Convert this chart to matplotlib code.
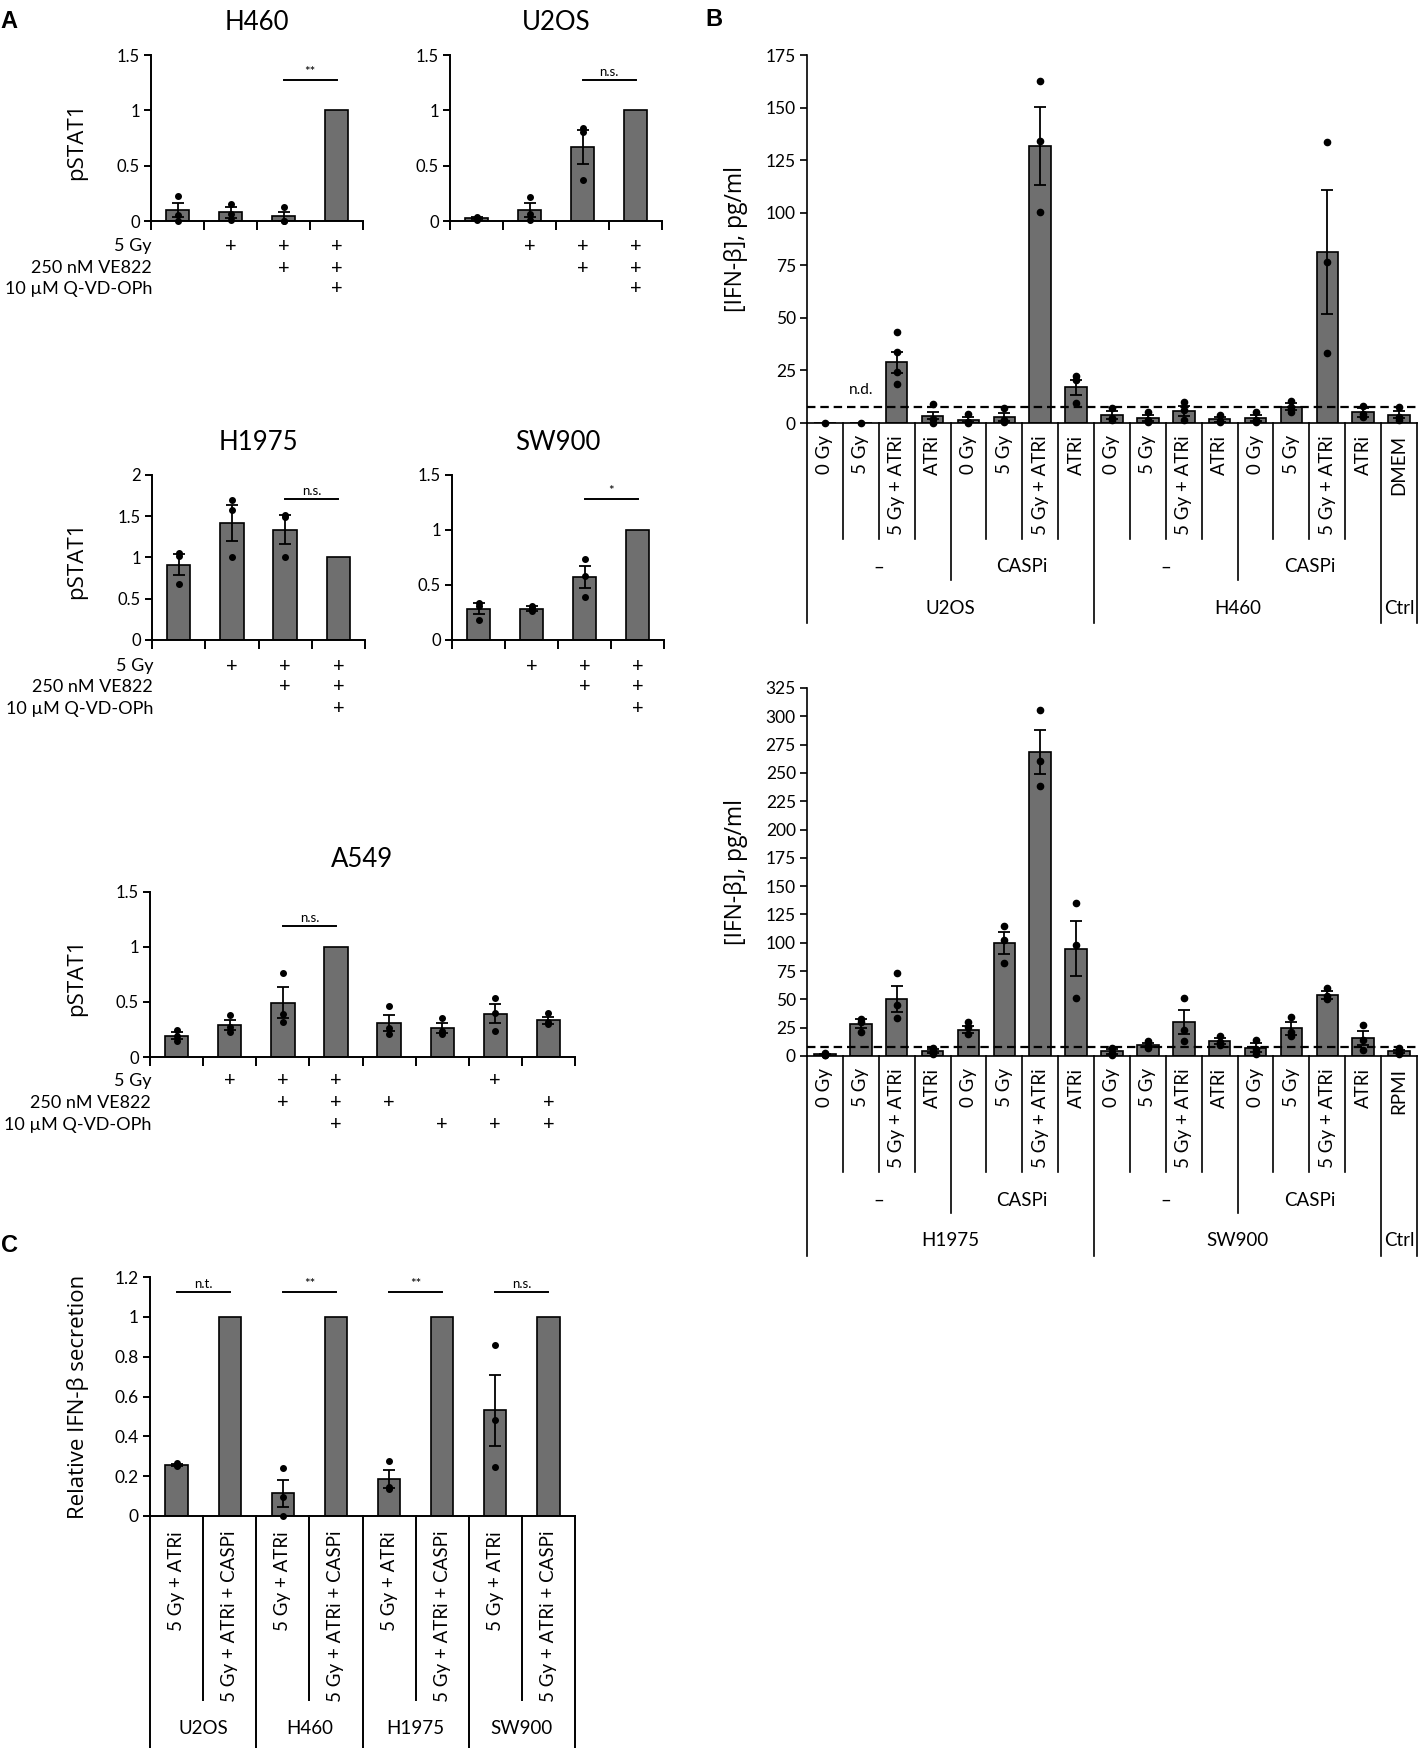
import numpy as np
import matplotlib
matplotlib.use("Agg")
import matplotlib.pyplot as plt

plt.rcParams['font.family'] = ['Lato', 'DejaVu Sans']

# ---------------- panel A data (pSTAT1) ----------------
h460_mean = [0.097, 0.078, 0.042, 1.0]
h460_sem = [0.063, 0.049, 0.040, 0]
h460_pts = [[0.223, 0.05, 0.0], [0.157, 0.066, 0.01], [0.127, 0.0, 0.0], []]

u2os_mean = [0.025, 0.097, 0.67, 1.0]
u2os_sem = [0.01, 0.062, 0.155, 0]
u2os_pts = [[0.04, 0.02, 0.01], [0.217, 0.066, 0.006], [0.84, 0.80, 0.368], []]

h1975_mean = [0.913, 1.414, 1.337, 1.0]
h1975_sem = [0.125, 0.22, 0.175, 0]
h1975_pts = [[1.06, 1.02, 0.68], [1.70, 1.57, 1.0], [1.515, 1.49, 1.0], []]

sw900_mean = [0.285, 0.285, 0.57, 1.0]
sw900_sem = [0.05, 0.02, 0.10, 0]
sw900_pts = [[0.335, 0.31, 0.18], [0.31, 0.29, 0.26], [0.736, 0.58, 0.39], []]

a549_mean = [0.194, 0.29, 0.494, 1.0, 0.31, 0.264, 0.394, 0.333]
a549_sem = [0.03, 0.043, 0.142, 0, 0.07, 0.042, 0.086, 0.034]
a549_pts = [[0.25, 0.19, 0.15], [0.38, 0.27, 0.23], [0.767, 0.394, 0.318], [],
            [0.46, 0.26, 0.21], [0.355, 0.24, 0.21], [0.533, 0.40, 0.233], [0.40, 0.32, 0.30]]

row_names = ["5 Gy", "250 nM VE822", "10 \u00b5M Q-VD-OPh"]
rows4 = [[0, 1, 1, 1], [0, 0, 1, 1], [0, 0, 0, 1]]
rows8 = [[0, 1, 1, 1, 0, 0, 1, 0], [0, 0, 1, 1, 1, 0, 0, 1], [0, 0, 0, 1, 0, 1, 1, 1]]

# ---------------- panel B data ([IFN-b], pg/ml) ----------------
b_labels = ["0 Gy", "5 Gy", "5 Gy + ATRi", "ATRi"] * 4
b1_mean = [0, 0, 28.8, 3.4, 1.6, 2.9, 131.8, 17.0, 3.7, 2.2, 5.7, 1.8, 2.4, 7.8, 81.3, 5.0, 4.0]
b1_sem = [0, 0, 4.8, 1.7, 1.1, 1.9, 18.4, 3.6, 1.8, 1.4, 2.5, 1.1, 1.6, 1.6, 29.4, 2.0, 1.5]
b1_pts = [[0], [0], [43.3, 33.7, 24.2, 18.6], [8.8, 2.0, 0], [4.2, 0.5, 0], [6.9, 1.3, 0.3],
          [162.6, 134, 100.3], [22.4, 20.5, 9.6], [7.3, 2.5, 1.2], [5.3, 1.2, 0.3],
          [9.9, 6.0, 1.2], [4.0, 1.0, 0.4], [5.3, 1.5, 0.4], [10.5, 7.5, 5.3],
          [133.7, 76.8, 33.2], [8.0, 4.3, 2.8], [7.5, 3.0, 1.6]]

b2_mean = [1.5, 28.4, 50.3, 4.5, 23.3, 99.7, 268.6, 94.6, 4.0, 9.8, 30.0, 13.2, 7.4, 24.3, 54.0, 15.9, 4.0]
b2_sem = [0.7, 4.0, 11.7, 1.5, 3.0, 9.5, 19.4, 24.3, 1.8, 2.0, 11.0, 2.5, 3.8, 5.5, 3.5, 6.0, 1.6]
b2_pts = [[2.5, 1.2, 0.5], [32.8, 30.0, 21.0], [73.3, 45.3, 33.4], [7.0, 4.0, 2.0],
          [30.0, 26.0, 19.0], [114.5, 102.7, 81.8], [305.7, 260.8, 238.5], [135.5, 97.6, 51.0],
          [7.5, 3.0, 1.2], [13.0, 9.0, 7.0], [51.4, 23.3, 13.2], [17.5, 12.0, 10.0],
          [14.0, 6.0, 2.0], [34.5, 21.0, 17.6], [59.8, 53.0, 50.3], [27.0, 14.2, 5.7], [7.5, 3.0, 1.5]]
b_treat = ["\u2013", "CASPi", "\u2013", "CASPi"]
b1_cells = ["U2OS", "H460", "Ctrl"]
b2_cells = ["H1975", "SW900", "Ctrl"]
b1_ctrl = "DMEM"
b2_ctrl = "RPMI"
detect_limit = 7.8

# ---------------- panel C data ----------------
c_labels = ["5 Gy + ATRi", "5 Gy + ATRi + CASPi"] * 4
c_cells = ["U2OS", "H460", "H1975", "SW900"]
c_mean = [0.257, 1.0, 0.113, 1.0, 0.187, 1.0, 0.53, 1.0]
c_sem = [0.005, 0, 0.07, 0, 0.045, 0, 0.178, 0]
c_pts = [[0.265, 0.255, 0.25], [], [0.242, 0.097, 0.0], [], [0.277, 0.147, 0.137], [],
         [0.857, 0.48, 0.247], []]
c_sig = ["n.t.", "**", "**", "n.s."]

W, H = 1418, 1748
GREY = "#6f6f6f"
YLAB_FONT = ["Open Sans", "DejaVu Sans"]
fig = plt.figure(figsize=(W / 100, H / 100), dpi=100)


def add_ax(l, t, r, b):
    return fig.add_axes([l / W, 1 - b / H, (r - l) / W, (b - t) / H])


def ftext(x, y, s, **kw):
    fig.text(x / W, 1 - y / H, s, **kw)


def draw_bars(ax, mean, sem, pts, width, cap, ms):
    x = np.arange(len(mean)) + 0.5
    ax.bar(x, mean, width, color=GREY, edgecolor="black", linewidth=1.2, zorder=2)
    for i in range(len(mean)):
        if sem[i] > 0:
            ax.errorbar(x[i], mean[i], yerr=sem[i], color="black", capsize=cap,
                        elinewidth=1.3, capthick=1.3, zorder=3)
        if pts[i]:
            ax.plot([x[i]] * len(pts[i]), pts[i], "o", color="black", ms=ms,
                    zorder=4, clip_on=False)


def style_ax(ax, n, ymax, ystep, lw=1.4, fs=12):
    ax.set_xlim(0, n)
    ax.set_ylim(0, ymax)
    ticks = np.arange(0, ymax + ystep / 2, ystep)
    ax.set_yticks(ticks)
    ax.set_yticklabels([f"{round(t, 2):g}" for t in ticks])
    for s in ["top", "right"]:
        ax.spines[s].set_visible(False)
    for s in ["left", "bottom"]:
        ax.spines[s].set_linewidth(lw)
    ax.tick_params(axis="y", direction="out", length=5, width=lw, labelsize=fs, pad=3)


def panel_a(l, t, r, b, title, ymax, mean, sem, pts, rows, row_y, labels, sig, sig_y):
    ax = add_ax(l, t, r, b)
    n = len(mean)
    draw_bars(ax, mean, sem, pts, 0.44, 4.4, 4.0)
    style_ax(ax, n, ymax, 0.5, fs=12)
    ax.set_xticks(np.arange(n + 1))
    ax.set_xticklabels([])
    ax.tick_params(axis="x", direction="out", length=6.5, width=1.4)
    ftext((l + r) / 2, t - 33, title, ha="center", va="center", fontsize=18.5)
    for k, flags in enumerate(rows):
        if labels:
            ftext(l + 1, row_y[k], row_names[k], ha="right", va="center", fontsize=13)
        for i, f in enumerate(flags):
            if f:
                xp = l + (r - l) * (i + 0.5) / n
                ftext(xp, row_y[k], "+", ha="center", va="center", fontsize=14.5)
    ax.plot([2.5, 3.5], [sig_y, sig_y], color="black", lw=1.4, clip_on=False)
    ax.text(3.0, sig_y + ymax * 0.012, sig, ha="center", va="bottom", fontsize=9.5)
    if labels:
        ftext(77, (t + b) / 2 + 3, "pSTAT1", rotation=90, ha="center", va="center",
              fontsize=16, family=YLAB_FONT)
    return ax


panel_a(151, 55, 363, 221, "H460", 1.5, h460_mean, h460_sem, h460_pts, rows4,
        [246, 268, 289], True, "**", 1.27)
panel_a(450, 55, 662, 221, "U2OS", 1.5, u2os_mean, u2os_sem, u2os_pts, rows4,
        [246, 268, 289], False, "n.s.", 1.27)
panel_a(152, 475, 365, 640, "H1975", 2.0, h1975_mean, h1975_sem, h1975_pts, rows4,
        [666, 687, 709], True, "n.s.", 1.705)
panel_a(452, 475, 664, 640, "SW900", 1.5, sw900_mean, sw900_sem, sw900_pts, rows4,
        [666, 687, 709], False, "*", 1.28)
panel_a(150, 892, 575, 1057, "A549", 1.5, a549_mean, a549_sem, a549_pts, rows8,
        [1081, 1103, 1125], True, "n.s.", 1.19)


def panel_b(t, b, ymax, mean, sem, pts, cells, ctrl):
    l, r = 807, 1417
    ax = add_ax(l, t, r, b)
    n = len(mean)
    draw_bars(ax, mean, sem, pts, 0.6, 4.0, 4.5)
    style_ax(ax, n, ymax, 25, lw=1.2, fs=12.5)
    ax.set_xticks([])
    ax.axhline(detect_limit, color="black", lw=1.6, ls=(0, (3.8, 2.2)), zorder=5)
    hpx = b - t
    tr = ax.get_xaxis_transform()
    off = lambda p: -p / hpx
    for k in range(n + 1):
        if k in (0, 8, 16, 17):
            depth = 200
        elif k in (4, 12):
            depth = 157
        else:
            depth = 116
        ax.plot([k, k], [0, off(depth)], color="black", lw=1.2, transform=tr, clip_on=False)
    labels = b_labels + [ctrl]
    for i, s in enumerate(labels):
        ax.text(i + 0.5, off(12), s, rotation=90, ha="center", va="top",
                fontsize=13.5, transform=tr)
    for g, s in enumerate(b_treat):
        ax.text(4 * g + 2, off(144), s, ha="center", va="center", fontsize=13.5, transform=tr)
    ax.text(4, off(185), cells[0], ha="center", va="center", fontsize=13.5, transform=tr)
    ax.text(12, off(185), cells[1], ha="center", va="center", fontsize=13.5, transform=tr)
    ax.text(16.5, off(185), cells[2], ha="center", va="center", fontsize=13.5, transform=tr)
    ftext(736, (t + b) / 2, "[IFN-\u03b2], pg/ml", rotation=90, ha="center", va="center",
          fontsize=16.5, family=YLAB_FONT)
    return ax


axb1 = panel_b(55, 423, 175, b1_mean, b1_sem, b1_pts, b1_cells, b1_ctrl)
axb1.text(1.5, 15.7, "n.d.", ha="center", va="center", fontsize=11)
panel_b(688, 1056, 325, b2_mean, b2_sem, b2_pts, b2_cells, b2_ctrl)

# ---------------- panel C ----------------
l, t, r, b = 150, 1277, 575, 1516
axc = add_ax(l, t, r, b)
draw_bars(axc, c_mean, c_sem, c_pts, 0.42, 4.4, 4.0)
style_ax(axc, 8, 1.2, 0.2, fs=12.5)
axc.set_xticks([])
trc = axc.get_xaxis_transform()
hc = b - t
for k in range(9):
    depth = 184 if k % 2 == 1 else 232
    axc.plot([k, k], [0, -depth / hc], color="black", lw=1.4, transform=trc, clip_on=False)
for i, s in enumerate(c_labels):
    axc.text(i + 0.5, -15 / hc, s, rotation=90, ha="center", va="top", fontsize=13.5,
             transform=trc)
for g, s in enumerate(c_cells):
    axc.text(2 * g + 1, -212 / hc, s, ha="center", va="center", fontsize=13.5, transform=trc)
    axc.plot([2 * g + 0.5, 2 * g + 1.5], [1.125, 1.125], color="black", lw=1.4)
    axc.text(2 * g + 1, 1.135, c_sig[g], ha="center", va="bottom", fontsize=9.5)
ftext(78, (t + b) / 2, "Relative IFN-\u03b2 secretion", rotation=90, ha="center",
      va="center", fontsize=16, family=YLAB_FONT)

# panel letters
for x, y, s in [(9, 21, "A"), (714, 20, "B"), (9, 1245, "C")]:
    ftext(x, y, s, ha="center", va="center", fontsize=17, fontweight="bold",
          family=["Liberation Sans", "DejaVu Sans"])

fig.savefig("out.png", dpi=100)
